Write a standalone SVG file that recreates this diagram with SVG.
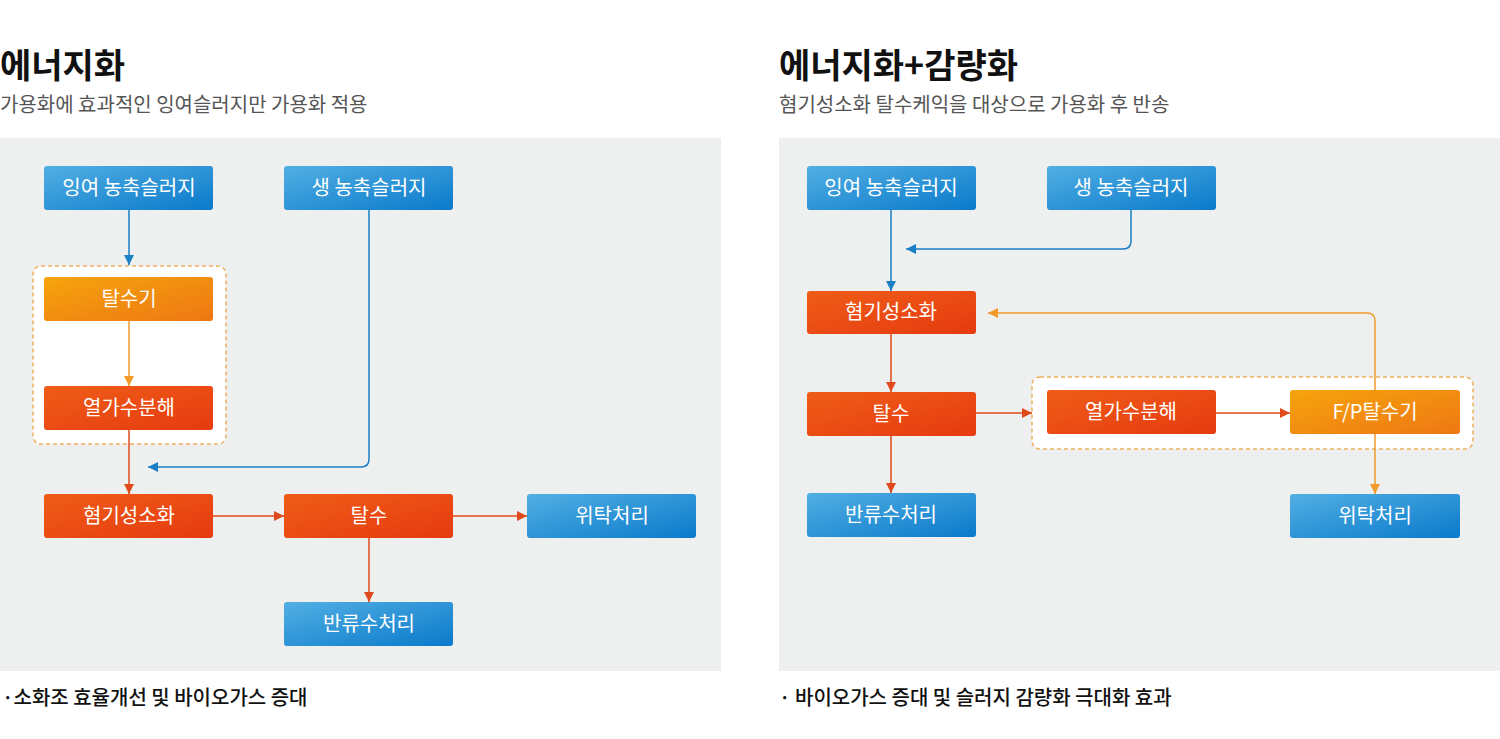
<svg xmlns="http://www.w3.org/2000/svg" width="1500" height="739" viewBox="0 0 1500 739">
<defs>
<linearGradient id="gBlue" x1="0" y1="0" x2="1" y2="1"><stop offset="0" stop-color="#52afe3"/><stop offset="1" stop-color="#0a7acb"/></linearGradient>
<linearGradient id="gRed" x1="0" y1="0" x2="1" y2="1"><stop offset="0" stop-color="#ef5d17"/><stop offset="1" stop-color="#e63a10"/></linearGradient>
<linearGradient id="gOrange" x1="0" y1="0" x2="1" y2="1"><stop offset="0" stop-color="#f6a40c"/><stop offset="1" stop-color="#ee7714"/></linearGradient>
<marker id="aBlue" viewBox="0 0 10 10" refX="10" refY="5" markerWidth="10" markerHeight="10" markerUnits="userSpaceOnUse" orient="auto"><path d="M0,0L10,5L0,10z" fill="#1a7fc4"/></marker>
<marker id="aRed" viewBox="0 0 10 10" refX="10" refY="5" markerWidth="10" markerHeight="10" markerUnits="userSpaceOnUse" orient="auto"><path d="M0,0L10,5L0,10z" fill="#df4a1c"/></marker>
<marker id="aOrange" viewBox="0 0 10 10" refX="10" refY="5" markerWidth="10" markerHeight="10" markerUnits="userSpaceOnUse" orient="auto"><path d="M0,0L10,5L0,10z" fill="#f29a2a"/></marker>
</defs>
<style>
.panel{fill:#eef0f0}
.title{font-family:"Noto Sans CJK KR","Noto Sans",sans-serif;font-size:34px;font-weight:700;fill:#111}
.sub{font-family:"Noto Sans CJK KR","Noto Sans",sans-serif;font-size:20px;fill:#555}
.foot{font-family:"Noto Sans CJK KR","Noto Sans",sans-serif;font-size:20px;font-weight:500;fill:#111}
.lbl{font-family:"Noto Sans CJK KR","Noto Sans",sans-serif;font-size:20px;font-weight:400;fill:#fff;text-anchor:middle}
.blue{fill:url(#gBlue)}
.red{fill:url(#gRed)}
.orange{fill:url(#gOrange)}
.grp{fill:#fff;stroke:#eeb060;stroke-width:1.5;stroke-dasharray:4 3}
.cB{fill:none;stroke:#1a7fc4;stroke-width:1.5;marker-end:url(#aBlue)}
.cR{fill:none;stroke:#df4a1c;stroke-width:1.5;marker-end:url(#aRed)}
.cO{fill:none;stroke:#f29a2a;stroke-width:1.5;marker-end:url(#aOrange)}
</style>
<rect width="1500" height="739" fill="#fff"/>
<rect class="panel" x="0" y="138" width="721" height="533"/>
<rect class="panel" x="779" y="138" width="721" height="533"/>

<text class="title" x="0" y="78">에너지화</text>
<text class="sub" x="0" y="112">가용화에 효과적인 잉여슬러지만 가용화 적용</text>
<text class="foot" x="2" y="705">·소화조 효율개선 및 바이오가스 증대</text>
<text class="title" x="779" y="78">에너지화+감량화</text>
<text class="sub" x="779" y="112">혐기성소화 탈수케익을 대상으로 가용화 후 반송</text>
<text class="foot" x="779" y="705">· 바이오가스 증대 및 슬러지 감량화 극대화 효과</text>

<g id="L-group"><rect class="grp" x="33" y="266" width="193" height="178" rx="8"/></g>
<g id="R-group"><rect class="grp" x="1032" y="377" width="441" height="72" rx="8"/></g>

<g id="connectors">
<path class="cB" d="M129,210V265"/>
<path class="cO" d="M129,321V386"/>
<path class="cR" d="M129,430V494"/>
<path class="cB" d="M369,210V459Q369,467 361,467H148"/>
<path class="cR" d="M213,516H284"/>
<path class="cR" d="M453,516H527"/>
<path class="cR" d="M369,538V602"/>

<path class="cB" d="M891,210V291"/>
<path class="cB" d="M1131,210V241Q1131,249 1123,249H906"/>
<path class="cR" d="M891,334V392"/>
<path class="cR" d="M891,436V493"/>
<path class="cR" d="M976,413H1032"/>
<path class="cR" d="M1216,413H1290"/>
<path class="cO" d="M1375,390V321Q1375,313 1367,313H988"/>
<path class="cO" d="M1375,434V494"/>
</g>

<g id="L-n1"><rect class="blue" x="44" y="166" width="169" height="44" rx="3"/><text class="lbl" x="129" y="195">잉여 농축슬러지</text></g>
<g id="L-n2"><rect class="blue" x="284" y="166" width="169" height="44" rx="3"/><text class="lbl" x="369" y="195">생 농축슬러지</text></g>
<g id="L-n3"><rect class="orange" x="44" y="277" width="169" height="44" rx="3"/><text class="lbl" x="129" y="306">탈수기</text></g>
<g id="L-n4"><rect class="red" x="44" y="386" width="169" height="44" rx="3"/><text class="lbl" x="129" y="415">열가수분해</text></g>
<g id="L-n5"><rect class="red" x="44" y="494" width="169" height="44" rx="3"/><text class="lbl" x="129" y="523">혐기성소화</text></g>
<g id="L-n6"><rect class="red" x="284" y="494" width="169" height="44" rx="3"/><text class="lbl" x="369" y="523">탈수</text></g>
<g id="L-n7"><rect class="blue" x="527" y="494" width="169" height="44" rx="3"/><text class="lbl" x="612" y="523">위탁처리</text></g>
<g id="L-n8"><rect class="blue" x="284" y="602" width="169" height="44" rx="3"/><text class="lbl" x="369" y="631">반류수처리</text></g>

<g id="R-n1"><rect class="blue" x="807" y="166" width="169" height="44" rx="3"/><text class="lbl" x="891" y="195">잉여 농축슬러지</text></g>
<g id="R-n2"><rect class="blue" x="1047" y="166" width="169" height="44" rx="3"/><text class="lbl" x="1131" y="195">생 농축슬러지</text></g>
<g id="R-n3"><rect class="red" x="807" y="291" width="169" height="43" rx="3"/><text class="lbl" x="891" y="319">혐기성소화</text></g>
<g id="R-n4"><rect class="red" x="807" y="392" width="169" height="44" rx="3"/><text class="lbl" x="891" y="421">탈수</text></g>
<g id="R-n5"><rect class="red" x="1047" y="390" width="169" height="44" rx="3"/><text class="lbl" x="1131" y="419">열가수분해</text></g>
<g id="R-n6"><rect class="orange" x="1290" y="390" width="170" height="44" rx="3"/><text class="lbl" x="1375" y="419">F/P탈수기</text></g>
<g id="R-n7"><rect class="blue" x="807" y="493" width="169" height="44" rx="3"/><text class="lbl" x="891" y="522">반류수처리</text></g>
<g id="R-n8"><rect class="blue" x="1290" y="494" width="170" height="44" rx="3"/><text class="lbl" x="1375" y="523">위탁처리</text></g>
</svg>
